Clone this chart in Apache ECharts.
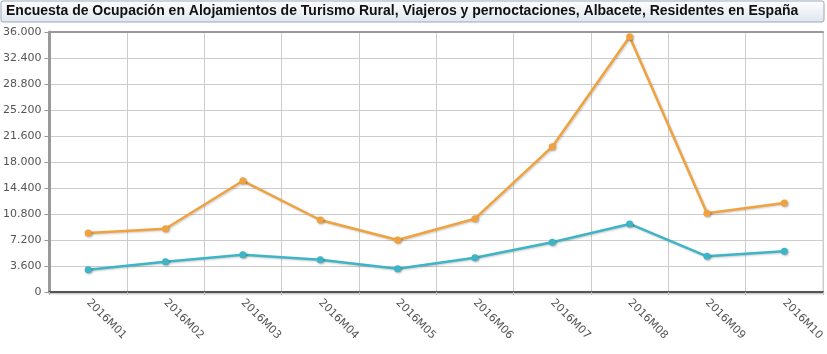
<!DOCTYPE html>
<html>
<head>
<meta charset="utf-8">
<script src="https://cdn.jsdelivr.net/npm/echarts@6/dist/echarts.min.js"></script>
<style>
  html, body { margin: 0; padding: 0; background: #fff; }
  #chart { width: 827px; height: 354px; }
</style>
</head>
<body>
<div id="chart"></div>
<script>
const titleText = 'Encuesta de Ocupación en Alojamientos de Turismo Rural, Viajeros y pernoctaciones, Albacete, Residentes en España'
const categories = ['2016M01', '2016M02', '2016M03', '2016M04', '2016M05', '2016M06', '2016M07', '2016M08', '2016M09', '2016M10']
const pernoctaciones = [8170, 8760, 15400, 9970, 7200, 10150, 20120, 35350, 10900, 12320]
const viajeros = [3090, 4200, 5170, 4480, 3230, 4750, 6880, 9420, 4940, 5630]
const yTicks = { min: 0, max: 36000, interval: 3600 }

function fmt(v) {
  return String(v).replace(/\B(?=(\d{3})+(?!\d))/g, '.')
}

function lineSeries(name, color, data) {
  return {
    name: name,
    type: 'line',
    data: data,
    symbol: 'circle',
    symbolSize: 7,
    lineStyle: {
      color: color,
      width: 2.5,
      shadowColor: 'rgba(0, 0, 0, 0.2)',
      shadowBlur: 2,
      shadowOffsetX: 1,
      shadowOffsetY: 1
    },
    itemStyle: {
      color: color,
      shadowColor: 'rgba(0, 0, 0, 0.3)',
      shadowBlur: 2,
      shadowOffsetX: 1,
      shadowOffsetY: 1
    }
  }
}

const chart = echarts.init(document.getElementById('chart'))
chart.setOption({
  animation: false,
  backgroundColor: '#fff',
  graphic: [{
    type: 'rect',
    left: 0.5,
    top: 0.5,
    shape: { width: 823, height: 21, r: 2 },
    style: {
      fill: new echarts.graphic.LinearGradient(0, 0, 0, 1, [
        { offset: 0, color: '#ffffff' },
        { offset: 1, color: '#dfe4ee' }
      ]),
      stroke: '#9aa6bd',
      lineWidth: 1
    },
    z: 0
  }, {
    type: 'text',
    left: 6,
    top: 4,
    style: {
      text: titleText,
      fill: '#111',
      font: 'bold 14px "Liberation Sans", Arial, sans-serif'
    },
    z: 1
  }],
  grid: {
    left: 44,
    right: 4,
    top: 32,
    bottom: 62,
    show: true,
    borderColor: '#ccc',
    borderWidth: 1
  },
  xAxis: [{
    type: 'category',
    data: categories,
    boundaryGap: true,
    axisLine: { lineStyle: { color: '#555', width: 2, shadowColor: 'rgba(0,0,0,0.3)', shadowBlur: 2, shadowOffsetY: 1 } },
    axisTick: { show: true, length: 3, lineStyle: { color: '#bbb' } },
    splitLine: { show: true, lineStyle: { color: '#ccc', width: 1 } },
    axisLabel: {
      rotate: -45,
      color: '#555',
      fontSize: 11,
      margin: 9,
      fontFamily: '"DejaVu Sans", sans-serif'
    }
  }, {
    type: 'category',
    position: 'top',
    data: categories,
    axisLine: { lineStyle: { color: '#999', width: 2 } },
    axisTick: { show: false },
    axisLabel: { show: false },
    splitLine: { show: false }
  }],
  yAxis: {
    type: 'value',
    min: yTicks.min,
    max: yTicks.max,
    interval: yTicks.interval,
    axisLine: { show: true, lineStyle: { color: '#999', width: 3 } },
    axisTick: { show: true, length: 5, lineStyle: { color: '#999' } },
    splitLine: { lineStyle: { color: '#ccc', width: 1 } },
    axisLabel: {
      color: '#555',
      fontSize: 11,
      margin: 8,
      fontFamily: '"DejaVu Sans", sans-serif',
      formatter: fmt
    }
  },
  series: [
    lineSeries('Pernoctaciones', '#f0a23f', pernoctaciones),
    lineSeries('Viajeros', '#3db5c6', viajeros)
  ]
})
</script>
</body>
</html>
